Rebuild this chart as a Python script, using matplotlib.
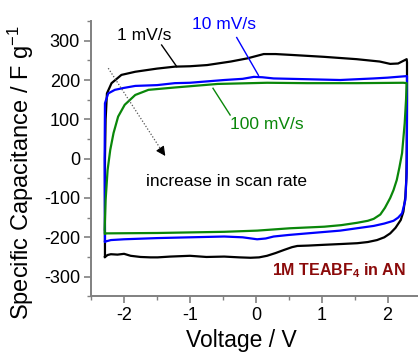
import numpy as np
import matplotlib
matplotlib.use('Agg')
import matplotlib.pyplot as plt
from matplotlib.ticker import MultipleLocator

plt.rcParams['font.family'] = ['Liberation Sans', 'DejaVu Sans']
plt.rcParams['mathtext.fontset'] = 'custom'
plt.rcParams['mathtext.rm'] = 'Liberation Sans'
plt.rcParams['mathtext.it'] = 'Liberation Sans:italic'
plt.rcParams['mathtext.bf'] = 'Liberation Sans:bold'
plt.rcParams['axes.unicode_minus'] = False

# CV loops (voltage V, specific capacitance F/g), traced around the loop
v_1 = [-2.29, -2.25, -2.2, -2.1, -2.0, -1.9, -1.75, -1.6, -1.49, -1.3, -1.0, -0.75, -0.48, -0.25,
       -0.08, 0.05, 0.17, 0.3, 0.43, 0.55, 0.63, 0.8, 1.04, 1.3, 1.54, 1.7, 1.84, 1.95, 2.04,
       2.12, 2.2, 2.24, 2.27, 2.285, 2.29, 2.295, 2.295, 2.29,
       2.16, 2.04, 1.88, 1.53, 1.03, 0.52, 0.3, 0.12, -0.13, -0.38, -0.74, -1.0, -1.23,
       -1.5, -1.83, -2.04, -2.19, -2.26, -2.28, -2.29, -2.29]
c_1 = [-250, -245, -243, -244, -242, -247, -250, -251, -251, -249, -247, -250, -249, -251,
       -252, -251, -247, -240, -232, -225, -222, -221, -219, -217, -215, -212, -207, -200, -190,
       -176, -156, -135, -97, -50, 0, 150, 245, 253,
       242, 241, 247, 253, 259, 264, 266, 266, 255, 247, 238, 235, 234,
       229, 221, 213, 192, 166, 100, 0, -250]

v_10 = [-2.29, -2.2, -2.0, -1.5, -1.0, -0.48, -0.2, 0.02, 0.15, 0.27, 0.5, 0.78, 1.28, 1.79,
        1.95, 2.09, 2.16, 2.22, 2.27, 2.29, 2.295, 2.295,
        2.0, 1.79, 1.28, 0.78, 0.27, 0.1, -0.03, -0.2, -0.48, -1.0, -1.23, -1.5, -1.83,
        -2.0, -2.14, -2.24, -2.29, -2.295, -2.29]
c_10 = [-211, -207, -205, -202, -200, -198, -200, -205, -203, -198, -194, -190, -183, -171,
        -165, -158, -150, -139, -105, -37, 100, 210,
        206, 204, 200, 202, 204, 207, 208, 203, 200, 193, 192, 187, 185,
        180, 175, 166, 141, 0, -211]

v_100 = [-2.29, -1.49, -0.48, 0.02, 0.52, 1.04, 1.3, 1.54, 1.7, 1.79, 1.89, 1.96, 2.04, 2.09,
         2.14, 2.18, 2.22, 2.26, 2.28, 2.29, 2.24, 1.53, 0.78, 0.17, -0.58, -1.23, -1.63,
         -1.83, -1.99, -2.09, -2.16, -2.21, -2.25, -2.28, -2.295, -2.29]
c_100 = [-190, -189, -186, -183, -177, -173, -169, -163, -158, -153, -142, -125, -100, -80,
         -54, -22, 14, 90, 149, 192, 193, 192, 192, 193, 190, 181, 175,
         162, 137, 107, 65, 22, -29, -105, -181, -190]

rate_labels = ['1 mV/s', '10 mV/s', '100 mV/s']
colors = ['black', '#0000ff', '#0a870a']

fig = plt.figure(figsize=(4.18, 3.54), dpi=100)
ax = fig.add_axes([0.218, 0.163, 0.788, 0.7776])

ax.plot(v_1, c_1, color=colors[0], lw=1.6)
ax.plot(v_10, c_10, color=colors[1], lw=1.6)
ax.plot(v_100, c_100, color=colors[2], lw=1.6)

# Labels with leader lines
ax.text(-2.11, 314, rate_labels[0], color=colors[0], fontsize=12.5, va='center', ha='left')
ax.plot([-1.43, -1.20], [289, 234], color=colors[0], lw=1)
ax.text(-0.97, 342, rate_labels[1], color=colors[1], fontsize=12.5, va='center', ha='left')
ax.plot([-0.29, 0.04], [308, 212], color=colors[1], lw=1)
ax.text(-0.39, 88, rate_labels[2], color=colors[2], fontsize=12.5, va='center', ha='left')
ax.plot([-0.65, -0.39], [179, 111], color=colors[2], lw=1)

# Dotted arrow
ax.plot([-2.24, -1.42], [230, 18], color='#555555', lw=0.9, ls=(0, (1, 1.5)))
ax.annotate('', xy=(-1.35, 1), xytext=(-1.42, 18),
            arrowprops=dict(arrowstyle='-|>', color='black', mutation_scale=14, lw=0.8))
ax.text(-1.66, -59, 'increase in scan rate', fontsize=12.5, va='center', ha='left')

ax.text(0.24, -285, r'1M TEABF$_{\mathbf{4}}$ in AN', color='#8b0a0a', fontsize=11.5,
        fontweight='bold', va='center', ha='left')

ax.set_xlim(-2.5, 2.5)
ax.set_ylim(-350, 350)
ax.xaxis.set_major_locator(MultipleLocator(1))
ax.xaxis.set_minor_locator(MultipleLocator(0.5))
ax.yaxis.set_major_locator(MultipleLocator(100))
ax.yaxis.set_minor_locator(MultipleLocator(50))
ax.set_yticks(np.arange(-300, 301, 100))
ax.set_xticks([-2, -1, 0, 1, 2])

for s in ['top', 'right']:
    ax.spines[s].set_visible(False)
for s in ['left', 'bottom']:
    ax.spines[s].set_color('#808080')
    ax.spines[s].set_linewidth(1.4)
ax.tick_params(which='major', direction='out', length=5, width=1.2, color='#808080',
               labelsize=13, pad=3)
ax.tick_params(which='minor', direction='out', length=3, width=1.0, color='#808080')

fig.text(0.05, 0.513, r'Specific Capacitance / F g$^{\mathrm{-1}}$', rotation=90,
         fontsize=17, ha='center', va='center')
fig.text(0.578, 0.02, 'Voltage / V', fontsize=16.5, ha='center', va='baseline')

fig.savefig('out.png', dpi=100)
